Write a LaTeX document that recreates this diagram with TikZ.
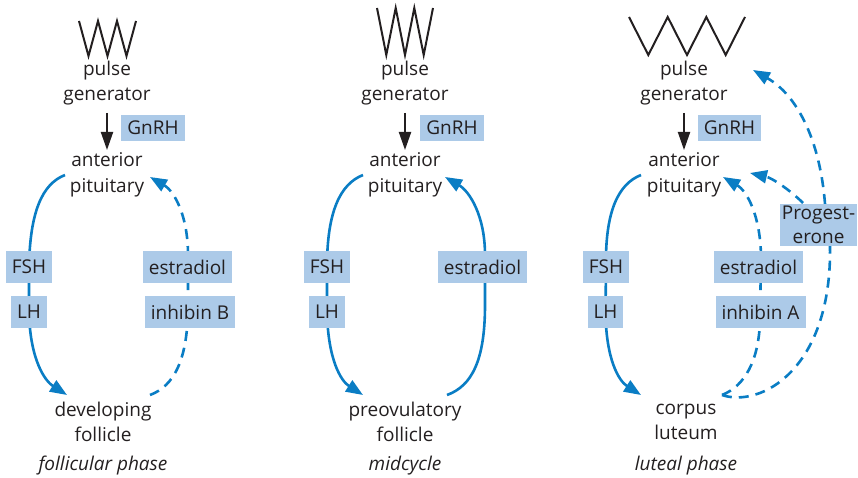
\documentclass[tikz,border=0pt]{standalone}
\usepackage{fontspec}
\setmainfont{Open Sans}
\usetikzlibrary{arrows.meta}
\definecolor{lineblue}{RGB}{10,125,196}
\definecolor{boxblue}{RGB}{172,202,232}
\definecolor{ink}{RGB}{35,31,32}
\pgfdeclarelayer{bg}
\pgfsetlayers{bg,main}
\begin{document}
\begin{tikzpicture}[x=1pt,y=-1pt,
  lbl/.style={inner sep=0pt, align=center, text=ink, font=\fontsize{19}{25.5}\selectfont},
  phase/.style={inner sep=0pt, text=ink, font=\fontsize{19}{24}\selectfont\itshape},
  hbox/.style={fill=boxblue, inner xsep=6pt, inner ysep=0pt, minimum height=32pt, text=ink, font=\fontsize{19}{24}\selectfont},
  gbox/.style={hbox, minimum height=26pt},
  pbox/.style={hbox, align=center, inner xsep=2pt, inner ysep=2pt, minimum height=42pt, font=\fontsize{19}{23.5}\selectfont},
  zig/.style={draw=ink, line width=2pt, line join=miter},
  gnarrow/.style={draw=ink, line width=2pt, -{Triangle[length=18pt,width=12pt]}},
  fb/.style={draw=lineblue, line width=2.6pt, -{Triangle[length=17pt,width=13pt]}},
  fbline/.style={draw=lineblue, line width=2.6pt},
  dsh/.style={dash pattern=on 10pt off 7pt},
]
\useasboundingbox (0,0) rectangle (858,478);

% pulse generator signals
\draw[zig] (79,21)--(88.5,56)--(98,21)--(107.5,56)--(117,21)--(126.5,56)--(136,21);
\draw[zig] (377,8)--(386.3,55)--(395.7,8)--(405,55)--(414.3,8)--(423.7,55)--(433,8);
\draw[zig] (629,17)--(648.3,55)--(667.7,17)--(687,55)--(706.3,17)--(725.7,55)--(745,17);

% text nodes
\node[lbl] (pg1) at (107,83) {pulse\\generator};
\node[lbl] (ap1) at (107,175) {anterior\\pituitary};
\node[lbl] (fo1) at (103,422) {developing\\follicle};
\node[phase] (ph1) at (103,466) {follicular phase};

\node[lbl] (pg2) at (405,83) {pulse\\generator};
\node[lbl] (ap2) at (405,175) {anterior\\pituitary};
\node[lbl] (fo2) at (405,422) {preovulatory\\follicle};
\node[phase] (ph2) at (405,466) {midcycle};

\node[lbl] (pg3) at (684,83) {pulse\\generator};
\node[lbl] (ap3) at (684,175) {anterior\\pituitary};
\node[lbl] (fo3) at (686,422) {corpus\\luteum};
\node[phase] (ph3) at (686,466) {luteal phase};

% boxes
\node[gbox] (g1) at (153,128) {GnRH};
\node[hbox] (fsh1) at (29,267) {FSH};
\node[hbox] (lh1) at (29,312) {LH};
\node[hbox] (es1) at (187.5,267) {estradiol};
\node[hbox] (ib1) at (190,312) {inhibin B};

\node[gbox] (g2) at (452,128) {GnRH};
\node[hbox] (fsh2) at (327,267) {FSH};
\node[hbox] (lh2) at (327,312) {LH};
\node[hbox] (es2) at (482.5,267) {estradiol};

\node[gbox] (g3) at (729.5,128) {GnRH};
\node[hbox] (fsh3) at (606,267) {FSH};
\node[hbox] (lh3) at (605.5,312) {LH};
\node[hbox] (es3) at (758.5,267) {estradiol};
\node[hbox] (ia3) at (760.5,312) {inhibin A};
\node[pbox] (pr3) at (818.5,225) {Progest-\\erone};

\begin{pgfonlayer}{bg}
% GnRH arrows
\draw[gnarrow] ([yshift=-30pt]pg1.center) -- ([yshift=25pt]ap1.center);
\draw[gnarrow] ([yshift=-30pt]pg2.center) -- ([yshift=25pt]ap2.center);
\draw[gnarrow] ([yshift=-30pt]pg3.center) -- ([yshift=25pt]ap3.center);

% left panel
\draw[fb] ([xshift=-42pt]ap1.center) .. controls (42,184) and (30,212) .. (fsh1.center)
  -- (lh1.center) .. controls (30,360) and (45,381) .. ([shift={(-36pt,27pt)}]fo1.center);
\draw[fb,dsh] ([shift={(47pt,27pt)}]fo1.center) .. controls (174,386) and (188,360) .. (188,305)
  -- (188,255) .. controls (188,215) and (174,191) .. ([shift={(43pt,-2pt)}]ap1.center);

% middle panel
\draw[fb] ([xshift=-42pt]ap2.center) .. controls (340,184) and (327,212) .. (fsh2.center)
  -- (lh2.center) .. controls (328,360) and (341,381) .. ([shift={(-42pt,27pt)}]fo2.center);
\draw[fb] ([shift={(42pt,27pt)}]fo2.center) .. controls (472,386) and (485,360) .. (485,305)
  -- (485,255) .. controls (485,215) and (469,191) .. ([shift={(40pt,-2pt)}]ap2.center);

% right panel
\draw[fb] ([xshift=-43pt]ap3.center) .. controls (618,184) and (605,212) .. (fsh3.center)
  -- (lh3.center) .. controls (606,360) and (619,381) .. ([shift={(-45pt,27pt)}]fo3.center);
\draw[fb,dsh] ([shift={(36pt,27pt)}]fo3.center) .. controls (745,386) and (759,360) .. (760,320)
  -- (761,255) .. controls (760,215) and (747,191) .. ([shift={(39pt,-2pt)}]ap3.center);
\draw[fbline,dsh] ([shift={(36pt,27pt)}]fo3.center) .. controls (760,408) and (832,370) .. ([shift={(11.5pt,-21pt)}]pr3.center);
\draw[fb,dsh] ([shift={(6.5pt,21pt)}]pr3.center) .. controls (820,140) and (797,95) .. ([shift={(69pt,13pt)}]pg3.center);
\draw[fb,dsh] ([shift={(-15.5pt,22pt)}]pr3.center) .. controls (790,190) and (772,178) .. ([shift={(66pt,2pt)}]ap3.center);
\end{pgfonlayer}
\end{tikzpicture}
\end{document}
